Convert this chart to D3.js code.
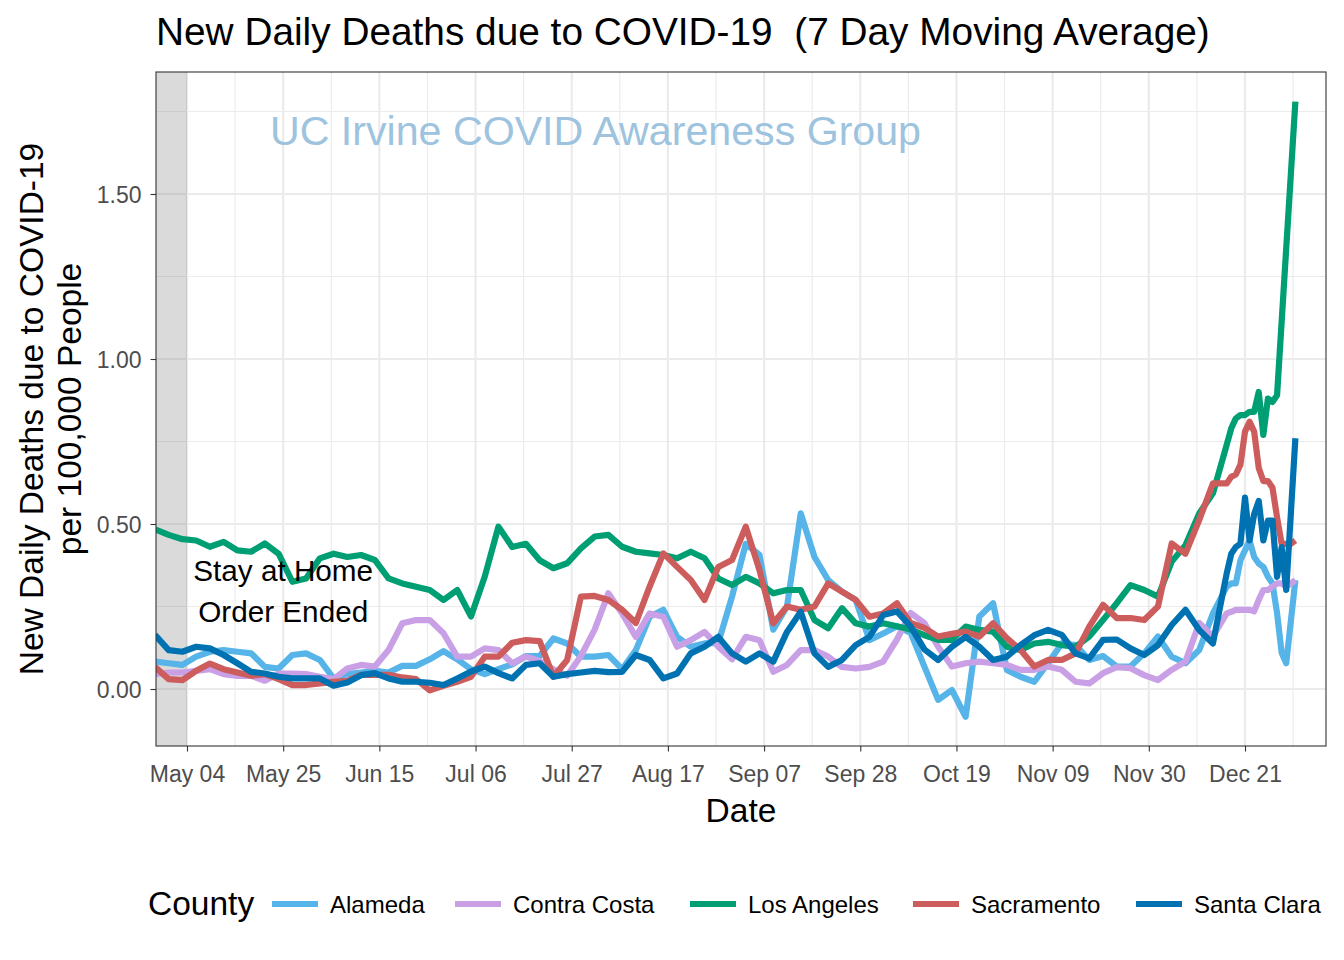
<!DOCTYPE html>
<html>
<head>
<meta charset="utf-8">
<script src="https://cdn.jsdelivr.net/npm/d3@7"></script>
<style>
  html, body { margin: 0; padding: 0; background: #ffffff; }
  svg { display: block; font-family: "Liberation Sans", Arial, Helvetica, sans-serif; }
</style>
</head>
<body>
<svg id="chart" width="1344" height="960"></svg>
<script>
// ---------------- data ----------------
const startDate = "2020-04-27";
// day offsets from startDate for every value below
const dayOffsets = [
  0,3,6,9,12,15,18,21,24,27,30,33,36,39,42,45,48,51,54,57,60,63,66,69,72,75,78,81,84,87,
  90,93,96,99,102,105,108,111,114,117,120,123,126,129,132,135,138,141,144,147,150,153,156,159,
  162,165,168,171,174,177,180,183,186,189,192,195,198,201,204,207,210,213,216,219,222,225,228,231,234,
  235,236,237,238,239,240,241,242,243,244,245,246,247,248,249
];
const counties = ["Alameda", "Contra Costa", "Los Angeles", "Sacramento", "Santa Clara"];

const alameda = [
  0.083,0.078,0.073,0.098,0.113,0.118,0.113,0.108,0.067,0.062,
  0.103,0.108,0.088,0.032,
  0.045,0.05,0.055,0.05,0.07,0.07,
  0.09,0.115,0.09,0.06,0.045,0.06,
  0.075,0.10,0.10,0.153,
  0.138,0.098,0.098,0.103,0.06,0.118,
  0.219,0.24,0.158,0.128,0.138,0.14,
  0.28,0.44,0.406,0.18,0.25,0.532,
  0.40,0.33,0.295,0.27,0.148,0.168,
  0.19,0.17,0.068,-0.033,-0.003,-0.084,
  0.22,0.26,0.058,0.037,0.022,0.078,
  0.138,0.133,0.088,0.10,0.068,0.068,
  0.108,0.159,0.098,0.078,0.118,0.229,
  0.31,
  0.32,0.32,0.39,0.42,0.45,0.40,0.38,0.37,0.34,0.32,0.23,0.11,0.078,null,0.33
];
const contraCosta = [
  0.045,0.05,0.05,0.055,0.06,0.045,0.04,0.04,0.025,0.047,
  0.047,0.045,0.037,0.03,
  0.062,0.073,0.068,0.118,0.199,0.209,
  0.209,0.169,0.098,0.098,0.123,0.118,
  0.078,0.098,0.085,0.06,
  0.04,0.10,0.18,0.29,0.229,0.158,
  0.229,0.219,0.128,0.148,0.173,0.128,
  0.09,0.158,0.148,0.052,0.073,0.118,
  0.118,0.098,0.067,0.062,0.067,0.083,
  0.15,0.23,0.20,0.128,0.068,0.078,
  0.083,0.078,0.073,0.058,0.058,0.068,
  0.058,0.022,0.017,0.048,0.066,0.063,
  0.042,0.027,0.058,0.083,0.20,0.159,
  0.229,
  0.234,0.24,0.24,0.24,0.24,0.235,0.27,0.30,0.30,0.31,0.32,0.32,0.31,0.32,0.33
];
const losAngeles = [
  0.484,0.467,0.454,0.45,0.431,0.446,0.42,0.416,0.441,0.41,
  0.325,0.335,0.396,0.41,
  0.40,0.406,0.391,0.335,0.32,0.31,
  0.30,0.27,0.30,0.22,0.34,0.492,
  0.43,0.44,0.39,0.366,
  0.381,0.426,0.462,0.467,0.431,0.416,
  0.411,0.406,0.396,0.416,0.396,0.335,
  0.315,0.34,0.32,0.29,0.30,0.30,
  0.209,0.184,0.245,0.199,0.189,0.199,
  0.19,0.18,0.163,0.149,0.149,0.189,
  0.179,0.174,0.128,0.118,0.138,0.143,
  0.133,0.128,0.159,0.209,0.26,0.315,
  0.30,0.28,0.386,0.436,0.532,0.593,
  0.74,
  0.79,0.82,0.83,0.83,0.84,0.84,0.90,0.77,0.88,0.87,0.89,null,null,null,1.78
];
const sacramento = [
  0.067,0.03,0.027,0.055,0.077,0.06,0.05,0.04,0.045,0.03,
  0.012,0.012,0.017,0.022,
  0.025,0.043,0.043,0.043,0.035,0.03,
  -0.004,0.01,0.022,0.037,0.098,0.098,
  0.14,0.148,0.145,0.037,
  0.088,0.28,0.282,0.27,0.24,0.2,
  0.31,0.411,0.37,0.33,0.27,0.37,
  0.391,0.492,0.36,0.199,0.25,0.24,
  0.25,0.32,0.295,0.27,0.219,0.229,
  0.26,0.20,0.185,0.159,0.167,0.174,
  0.159,0.199,0.154,0.118,0.068,0.088,
  0.088,0.108,0.189,0.255,0.215,0.215,
  0.209,0.25,0.441,0.41,0.512,0.623,
  0.623,
  0.643,0.65,0.68,0.78,0.81,0.78,0.67,0.63,0.63,0.61,0.52,0.44,0.44,0.44,0.45
];
const santaClara = [
  0.164,0.118,0.113,0.128,0.123,0.103,0.078,0.052,0.047,0.037,
  0.032,0.032,0.032,0.01,
  0.02,0.042,0.048,0.032,0.022,0.022,
  0.019,0.012,0.032,0.053,0.068,0.048,
  0.032,0.073,0.078,0.037,
  0.045,0.05,0.055,0.051,0.052,0.103,
  0.088,0.032,0.047,0.108,0.128,0.158,
  0.108,0.083,0.108,0.083,0.173,0.234,
  0.108,0.067,0.088,0.133,0.158,0.224,
  0.235,0.19,0.12,0.088,0.128,0.158,
  0.128,0.088,0.098,0.133,0.163,0.179,
  0.164,0.108,0.093,0.149,0.15,0.123,
  0.103,0.133,0.194,0.24,0.179,0.138,
  0.35,
  0.41,0.43,0.44,0.58,0.45,0.53,0.57,0.45,0.51,0.51,0.34,0.43,0.30,null,0.76
];
const seriesValues = [alameda, contraCosta, losAngeles, sacramento, santaClara];
const seriesColors = ["#56B4E9", "#C9A0E6", "#009E73", "#CD5C5C", "#0072B2"];

const xTickDates = ["2020-05-04","2020-05-25","2020-06-15","2020-07-06","2020-07-27","2020-08-17",
                    "2020-09-07","2020-09-28","2020-10-19","2020-11-09","2020-11-30","2020-12-21"];
const xTickLabels = ["May 04","May 25","Jun 15","Jul 06","Jul 27","Aug 17",
                     "Sep 07","Sep 28","Oct 19","Nov 09","Nov 30","Dec 21"];
const yTicks = [0, 0.5, 1.0, 1.5];
const yTickLabels = ["0.00", "0.50", "1.00", "1.50"];
const yMinor = [0.25, 0.75, 1.25, 1.75];
const stayHomeEnd = "2020-05-04";
const annotationDate = "2020-05-25";

// ---------------- layout ----------------
const svg = d3.select("#chart");
const panel = { left: 156, right: 1326, top: 72, bottom: 746 };
const parse = d3.utcParse("%Y-%m-%d");
const start = parse(startDate);
const dayMs = 86400000;
const lineWidth = 6.2;

const x = d3.scaleUtc()
  .domain([parse(xTickDates[0]), parse(xTickDates[xTickDates.length - 1])])
  .range([187, 1245]);
const y = d3.scaleLinear().domain([0, 1.5]).range([689, 194]);

svg.append("rect").attr("width", 1344).attr("height", 960).attr("fill", "#ffffff");

svg.append("defs").append("clipPath").attr("id", "clip")
  .append("rect")
  .attr("x", panel.left).attr("y", panel.top)
  .attr("width", panel.right - panel.left).attr("height", panel.bottom - panel.top);

const grid = svg.append("g");
const tickDates = xTickDates.map(parse);
const minorX = [];
for (let i = -1; i < tickDates.length; i++) {
  const a = i >= 0 ? tickDates[i] : new Date(tickDates[0] - 21 * dayMs);
  minorX.push(new Date(+a + 10.5 * dayMs));
}
minorX.filter(d => x(d) > panel.left && x(d) < panel.right).forEach(d => {
  grid.append("line").attr("x1", x(d)).attr("x2", x(d))
    .attr("y1", panel.top).attr("y2", panel.bottom)
    .attr("stroke", "#EBEBEB").attr("stroke-width", 1.1);
});
yMinor.filter(v => y(v) > panel.top && y(v) < panel.bottom).forEach(v => {
  grid.append("line").attr("x1", panel.left).attr("x2", panel.right)
    .attr("y1", y(v)).attr("y2", y(v))
    .attr("stroke", "#EBEBEB").attr("stroke-width", 1.1);
});
tickDates.forEach(d => {
  grid.append("line").attr("x1", x(d)).attr("x2", x(d))
    .attr("y1", panel.top).attr("y2", panel.bottom)
    .attr("stroke", "#EBEBEB").attr("stroke-width", 2.2);
});
yTicks.forEach(v => {
  grid.append("line").attr("x1", panel.left).attr("x2", panel.right)
    .attr("y1", y(v)).attr("y2", y(v))
    .attr("stroke", "#EBEBEB").attr("stroke-width", 2.2);
});

// shaded stay-at-home period
svg.append("rect")
  .attr("x", panel.left).attr("y", panel.top)
  .attr("width", x(parse(stayHomeEnd)) - panel.left)
  .attr("height", panel.bottom - panel.top)
  .attr("fill", "#808080").attr("fill-opacity", 0.29);

// watermark
svg.append("text")
  .attr("x", 595.5).attr("y", 145)
  .attr("text-anchor", "middle")
  .attr("font-size", 41)
  .attr("fill", "#9DC3DE")
  .attr("textLength", 651).attr("lengthAdjust", "spacingAndGlyphs")
  .text("UC Irvine COVID Awareness Group");

// lines
const line = d3.line()
  .x(d => x(d.date))
  .y(d => y(d.value))
  .curve(d3.curveLinear);

const linesG = svg.append("g").attr("clip-path", "url(#clip)");
counties.forEach((c, i) => {
  const pts = dayOffsets.map((off, j) => ({
    date: new Date(+start + off * dayMs),
    value: seriesValues[i][j]
  })).filter(p => p.value !== null);
  linesG.append("path")
    .datum(pts)
    .attr("d", line)
    .attr("fill", "none")
    .attr("stroke", seriesColors[i])
    .attr("stroke-width", lineWidth)
    .attr("stroke-linejoin", "round")
    .attr("stroke-linecap", "butt");
});

// annotation
const annX = x(parse(annotationDate));
svg.append("text").attr("x", annX).attr("y", 581).attr("text-anchor", "middle")
  .attr("font-size", 29.7).attr("fill", "#000").text("Stay at Home");
svg.append("text").attr("x", annX).attr("y", 622).attr("text-anchor", "middle")
  .attr("font-size", 29.7).attr("fill", "#000").text("Order Ended");

// panel border
svg.append("rect")
  .attr("x", panel.left).attr("y", panel.top)
  .attr("width", panel.right - panel.left).attr("height", panel.bottom - panel.top)
  .attr("fill", "none").attr("stroke", "#333333").attr("stroke-width", 1.1);

// axes
const xAxis = d3.axisBottom(x)
  .tickValues(tickDates)
  .tickFormat((d, i) => xTickLabels[i])
  .tickSize(5.5).tickPadding(6);
const gx = svg.append("g").attr("transform", `translate(0,${panel.bottom})`).call(xAxis);
gx.select(".domain").remove();
gx.selectAll(".tick line").attr("stroke", "#333333").attr("stroke-width", 1.1);
gx.selectAll(".tick text").attr("font-size", 23).attr("fill", "#4D4D4D")
  .attr("font-family", "Liberation Sans, Arial, sans-serif")
  .attr("dy", null).attr("y", 36);

const yAxis = d3.axisLeft(y)
  .tickValues(yTicks)
  .tickFormat((d, i) => yTickLabels[i])
  .tickSize(5.5).tickPadding(9);
const gy = svg.append("g").attr("transform", `translate(${panel.left},0)`).call(yAxis);
gy.select(".domain").remove();
gy.selectAll(".tick line").attr("stroke", "#333333").attr("stroke-width", 1.1);
gy.selectAll(".tick text").attr("font-size", 23).attr("fill", "#4D4D4D")
  .attr("font-family", "Liberation Sans, Arial, sans-serif")
  .attr("dy", "0.35em");

// titles
svg.append("text").attr("x", 156).attr("y", 45)
  .attr("font-size", 38.8).attr("fill", "#000")
  .attr("xml:space", "preserve").style("white-space", "pre")
  .text("New Daily Deaths due to COVID-19  (7 Day Moving Average)");

svg.append("text").attr("x", 741).attr("y", 822).attr("text-anchor", "middle")
  .attr("font-size", 33.5).attr("fill", "#000").text("Date");

const yl = svg.append("g").attr("transform", "translate(0,409) rotate(-90)");
yl.append("text").attr("x", 0).attr("y", 43).attr("text-anchor", "middle")
  .attr("font-size", 33.5).attr("fill", "#000").text("New Daily Deaths due to COVID-19");
yl.append("text").attr("x", 0).attr("y", 81).attr("text-anchor", "middle")
  .attr("font-size", 33.5).attr("fill", "#000").text("per 100,000 People");

// legend
const legend = svg.append("g");
legend.append("text").attr("x", 148).attr("y", 915)
  .attr("font-size", 33.5).attr("fill", "#000").text("County");
const keyX = [272, 455, 690, 913, 1136];
counties.forEach((c, i) => {
  legend.append("line")
    .attr("x1", keyX[i]).attr("x2", keyX[i] + 46)
    .attr("y1", 904).attr("y2", 904)
    .attr("stroke", seriesColors[i]).attr("stroke-width", lineWidth);
  legend.append("text").attr("x", keyX[i] + 58).attr("y", 912.5)
    .attr("font-size", 24).attr("fill", "#000").text(c);
});
</script>
</body>
</html>
